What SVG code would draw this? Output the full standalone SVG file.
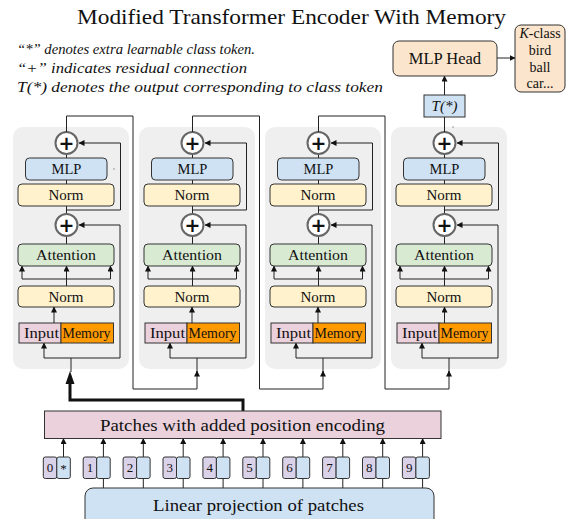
<svg xmlns="http://www.w3.org/2000/svg" width="567" height="519" viewBox="0 0 567 519">
<style>
text{font-family:"Liberation Serif","Times New Roman",serif;fill:#111}
.t{font-size:21px}
.note{font-size:15px;font-style:italic}
.bl{font-size:15px;text-anchor:middle}
.panel{fill:#efefef}
.box{stroke:#333;stroke-width:1}
.mlp{fill:#cfe2f3}
.norm{fill:#fff2cc}
.att{fill:#d9ead3}
.inp{fill:#ead1dc}
.mem{fill:#ff9900}
.plus{fill:#fff;stroke:#666;stroke-width:2}
.pt{font-size:19px;font-weight:bold;text-anchor:middle;font-family:"DejaVu Sans",sans-serif}
.ln{fill:none;stroke:#222;stroke-width:1}
.arr{fill:none;stroke:#222;stroke-width:1;marker-end:url(#ah)}
.num{fill:#d9d2e9}
.tk{font-size:13px;text-anchor:middle}
</style>
<defs>
<marker id="ah" viewBox="0 0 6 6" refX="5.5" refY="3" markerWidth="6" markerHeight="6" markerUnits="userSpaceOnUse" orient="auto">
<path d="M0,0 L6,3 L0,6 z" fill="#111"/>
</marker>
<g id="panel">
<rect class="panel" x="13" y="127" width="116" height="242" rx="10"/>
<line class="ln" x1="66.5" y1="154" x2="66.5" y2="158"/>
<line class="ln" x1="66.5" y1="180" x2="66.5" y2="184"/>
<line class="ln" x1="66.5" y1="206" x2="66.5" y2="214"/>
<line class="ln" x1="66.5" y1="236" x2="66.5" y2="244"/>
<path class="arr" d="M66.5,210 H120.5 V143 H79"/>
<path class="arr" d="M120,358 V225 H79"/>
<line class="arr" x1="66.5" y1="286" x2="66.5" y2="266"/>
<path class="ln" d="M22,279 H110.5"/>
<line class="arr" x1="22" y1="279" x2="22" y2="266"/>
<line class="arr" x1="110.5" y1="279" x2="110.5" y2="266"/>
<path class="ln" d="M44,358 H120"/>
<line class="arr" x1="44" y1="358" x2="44" y2="343"/>
<line class="ln" x1="71" y1="358" x2="71" y2="372"/>
<rect class="box mlp" x="25.5" y="158" width="81.5" height="22" rx="4"/>
<text class="bl" x="66.5" y="174" style="font-size:14.5px">MLP</text>
<rect class="box norm" x="18" y="184" width="96" height="22" rx="4"/>
<text class="bl" x="66" y="200">Norm</text>
<rect class="box att" x="18" y="244" width="96" height="22" rx="4"/>
<text class="bl" x="66" y="260" textLength="60" lengthAdjust="spacingAndGlyphs">Attention</text>
<rect class="box norm" x="18" y="286" width="96" height="21" rx="4"/>
<text class="bl" x="66" y="301.5">Norm</text>
<rect class="box inp" x="19" y="323" width="42" height="20"/>
<rect class="box mem" x="61" y="323" width="52.5" height="20"/>
<text class="bl" x="41.5" y="338" style="font-size:15px" textLength="35" lengthAdjust="spacingAndGlyphs">Input</text>
<text class="bl" x="86.5" y="338" style="font-size:14px" textLength="48" lengthAdjust="spacingAndGlyphs">Memory</text>
<circle class="plus" cx="66.5" cy="143" r="11"/>
<text class="pt" x="66.5" y="150">+</text>
<circle class="plus" cx="66.5" cy="225" r="11"/>
<text class="pt" x="66.5" y="232">+</text>
</g>
</defs>

<g id="title">
<text class="t" x="77" y="24" textLength="429" lengthAdjust="spacingAndGlyphs">Modified Transformer Encoder With Memory</text>
</g>
<g id="notes">
<text class="note" x="17" y="54" textLength="238" lengthAdjust="spacingAndGlyphs">“*” denotes extra learnable class token.</text>
<text class="note" x="17" y="73" textLength="230" lengthAdjust="spacingAndGlyphs">“+” indicates residual connection</text>
<text class="note" x="17" y="92" textLength="366" lengthAdjust="spacingAndGlyphs">T(*) denotes the output corresponding to class token</text>
</g>

<g id="encoder1">
<use href="#panel"/>
<line class="arr" x1="54" y1="323" x2="54" y2="307"/>
<circle cx="114" cy="169" r="0.7" fill="#777"/>
</g>
<g id="encoder2" transform="translate(126,0)">
<use href="#panel"/>
<line class="arr" x1="66" y1="323" x2="66" y2="307"/>
</g>
<g id="encoder3" transform="translate(252,0)">
<use href="#panel"/>
<line class="arr" x1="66" y1="323" x2="66" y2="307"/>
</g>
<g id="encoder4" transform="translate(378,0)">
<use href="#panel"/>
<line class="arr" x1="66.5" y1="323" x2="66.5" y2="307"/>
<circle cx="75" cy="127" r="0.7" fill="#777"/>
</g>

<g id="connectors">
<path class="arr" d="M66.5,132 V116 H133 V389 H197 V371"/>
<path class="arr" d="M192.5,132 V116 H259.5 V389 H323 V371"/>
<path class="arr" d="M318.5,132 V116 H385 V389 H449 V371"/>
<line class="ln" x1="444.5" y1="132" x2="444.5" y2="117"/>
<line class="arr" x1="444.5" y1="95" x2="444.5" y2="76"/>
<line class="arr" x1="497" y1="58" x2="515" y2="58"/>
<path d="M243,411 V400 H70 V383" fill="none" stroke="#111" stroke-width="3"/>
<path d="M70,371 L65.5,384 L74.5,384 z" fill="#111"/>
<g id="tokenArrows">
<line class="arr" x1="63.5" y1="457" x2="63.5" y2="438.5"/>
<line class="arr" x1="103.4" y1="457" x2="103.4" y2="438.5"/>
<line class="arr" x1="143.3" y1="457" x2="143.3" y2="438.5"/>
<line class="arr" x1="183.2" y1="457" x2="183.2" y2="438.5"/>
<line class="arr" x1="223.1" y1="457" x2="223.1" y2="438.5"/>
<line class="arr" x1="263" y1="457" x2="263" y2="438.5"/>
<line class="arr" x1="302.9" y1="457" x2="302.9" y2="438.5"/>
<line class="arr" x1="342.8" y1="457" x2="342.8" y2="438.5"/>
<line class="arr" x1="382.7" y1="457" x2="382.7" y2="438.5"/>
<line class="arr" x1="422.6" y1="457" x2="422.6" y2="438.5"/>
</g>
<g id="projLines">
<line class="ln" x1="103.4" y1="478" x2="103.4" y2="488"/>
<line class="ln" x1="143.3" y1="478" x2="143.3" y2="488"/>
<line class="ln" x1="183.2" y1="478" x2="183.2" y2="488"/>
<line class="ln" x1="223.1" y1="478" x2="223.1" y2="488"/>
<line class="ln" x1="263" y1="478" x2="263" y2="488"/>
<line class="ln" x1="302.9" y1="478" x2="302.9" y2="488"/>
<line class="ln" x1="342.8" y1="478" x2="342.8" y2="488"/>
<line class="ln" x1="382.7" y1="478" x2="382.7" y2="488"/>
<line class="ln" x1="422.6" y1="478" x2="422.6" y2="488"/>
</g>
</g>

<g id="tcls">
<rect class="box mlp" x="424" y="95" width="41" height="22"/>
<text x="444.5" y="111" text-anchor="middle" style="font-size:15px;font-style:italic">T(*)</text>
</g>
<g id="mlphead">
<rect class="box" x="393" y="41" width="104" height="35" rx="6" fill="#fce5cd"/>
<text x="445" y="64" text-anchor="middle" style="font-size:16.5px">MLP Head</text>
</g>
<g id="kclass">
<rect class="box" x="515" y="25" width="50" height="67" rx="6" fill="#fce5cd"/>
<text x="540" y="38" text-anchor="middle" style="font-size:14px"><tspan font-style="italic">K</tspan>-class</text>
<text x="540" y="55" text-anchor="middle" style="font-size:14px">bird</text>
<text x="540" y="72" text-anchor="middle" style="font-size:14px">ball</text>
<text x="540" y="88" text-anchor="middle" style="font-size:14px">car...</text>
</g>

<g id="patches">
<rect class="box inp" x="44.5" y="411" width="396.5" height="27.5"/>
<text x="100" y="430.5" style="font-size:17.5px" textLength="285" lengthAdjust="spacingAndGlyphs">Patches with added position encoding</text>
</g>

<g id="tokens">
<g><rect class="box num" x="43.3" y="457" width="13.5" height="21.5" rx="2"/><rect class="box mlp" x="56.8" y="457" width="13.5" height="21.5" rx="2"/><text class="tk" x="50" y="472">0</text><text class="tk" x="63.5" y="473">*</text></g>
<g><rect class="box num" x="83.2" y="457" width="13.5" height="21.5" rx="2"/><rect class="box mlp" x="96.7" y="457" width="13.5" height="21.5" rx="2"/><text class="tk" x="90" y="472">1</text></g>
<g><rect class="box num" x="123.1" y="457" width="13.5" height="21.5" rx="2"/><rect class="box mlp" x="136.6" y="457" width="13.5" height="21.5" rx="2"/><text class="tk" x="129.9" y="472">2</text></g>
<g><rect class="box num" x="163" y="457" width="13.5" height="21.5" rx="2"/><rect class="box mlp" x="176.5" y="457" width="13.5" height="21.5" rx="2"/><text class="tk" x="169.8" y="472">3</text></g>
<g><rect class="box num" x="202.9" y="457" width="13.5" height="21.5" rx="2"/><rect class="box mlp" x="216.4" y="457" width="13.5" height="21.5" rx="2"/><text class="tk" x="209.7" y="472">4</text></g>
<g><rect class="box num" x="242.8" y="457" width="13.5" height="21.5" rx="2"/><rect class="box mlp" x="256.3" y="457" width="13.5" height="21.5" rx="2"/><text class="tk" x="249.6" y="472">5</text></g>
<g><rect class="box num" x="282.7" y="457" width="13.5" height="21.5" rx="2"/><rect class="box mlp" x="296.2" y="457" width="13.5" height="21.5" rx="2"/><text class="tk" x="289.5" y="472">6</text></g>
<g><rect class="box num" x="322.6" y="457" width="13.5" height="21.5" rx="2"/><rect class="box mlp" x="336.1" y="457" width="13.5" height="21.5" rx="2"/><text class="tk" x="329.4" y="472">7</text></g>
<g><rect class="box num" x="362.5" y="457" width="13.5" height="21.5" rx="2"/><rect class="box mlp" x="376" y="457" width="13.5" height="21.5" rx="2"/><text class="tk" x="369.3" y="472">8</text></g>
<g><rect class="box num" x="402.4" y="457" width="13.5" height="21.5" rx="2"/><rect class="box mlp" x="415.9" y="457" width="13.5" height="21.5" rx="2"/><text class="tk" x="409.2" y="472">9</text></g>
</g>

<g id="projection">
<rect class="box mlp" x="85" y="488" width="349" height="40" rx="8"/>
<text x="153" y="511" style="font-size:17.5px" textLength="211" lengthAdjust="spacingAndGlyphs">Linear projection of patches</text>
</g>
</svg>
